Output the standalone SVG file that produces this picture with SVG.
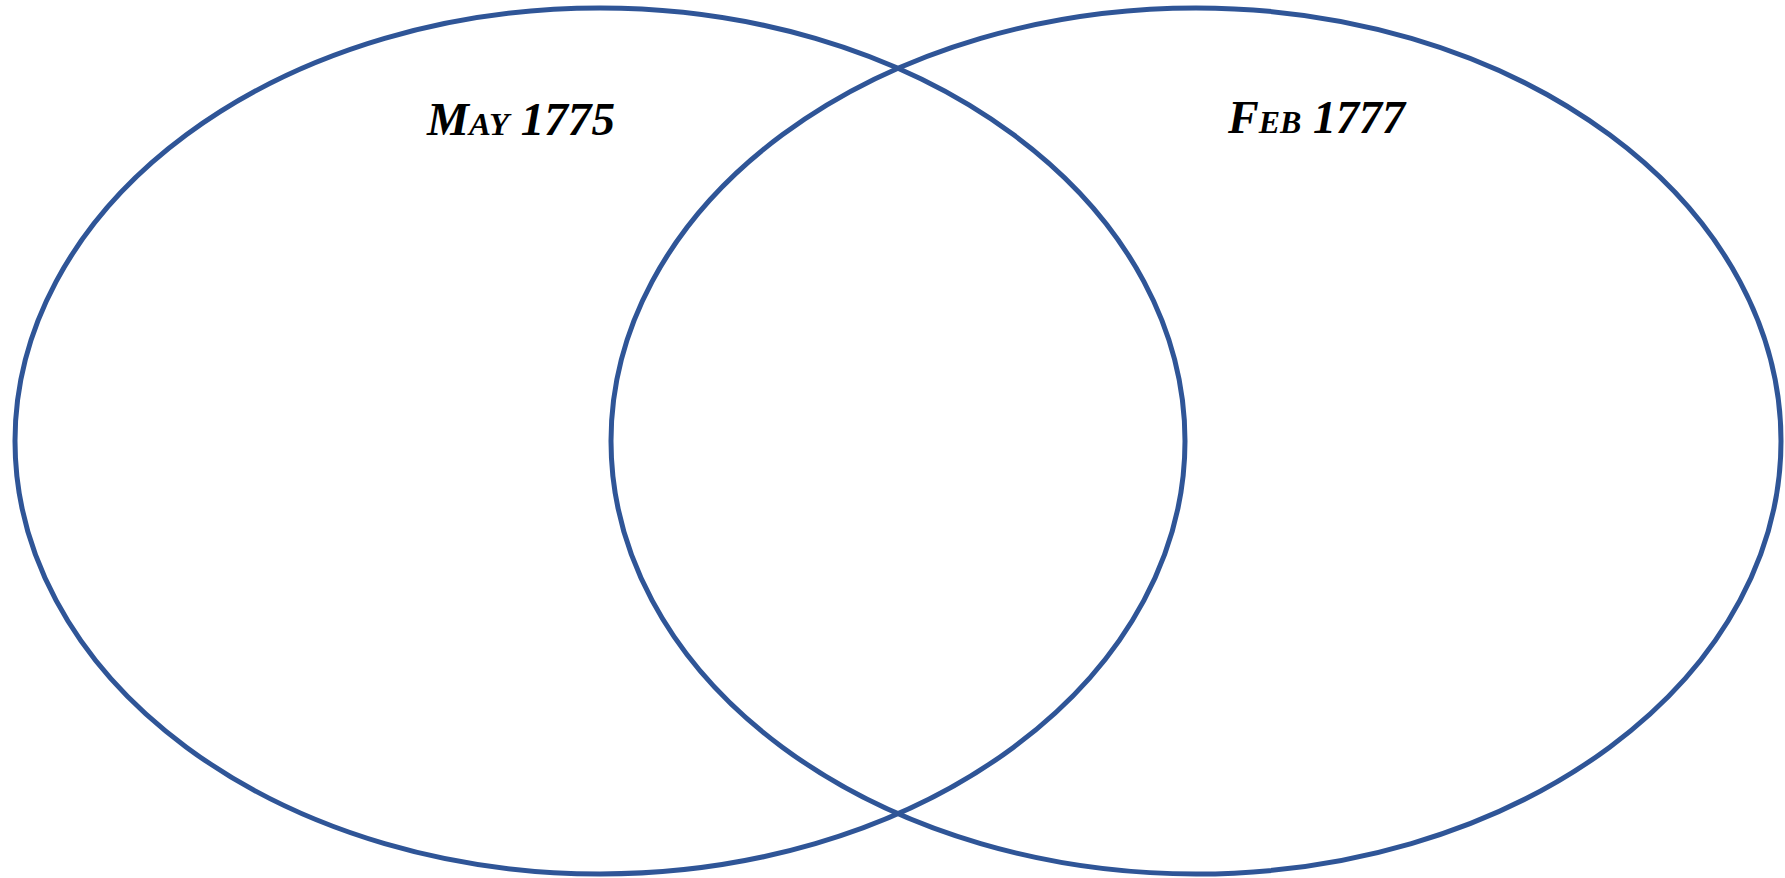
<svg xmlns="http://www.w3.org/2000/svg" width="1785" height="878" viewBox="0 0 1785 878">
<style>
.set{fill:none;stroke:#2F5597;stroke-width:5}
.lbl{font-family:"Liberation Serif","DejaVu Serif",serif;font-weight:bold;font-style:italic;font-variant:small-caps;font-size:46px;fill:#000}
</style>
<rect width="1785" height="878" fill="#fff"/>
<g id="set-may-1775">
<ellipse class="set" cx="600" cy="441" rx="585" ry="433"/>
<text class="lbl" x="427" y="135" textLength="188" lengthAdjust="spacingAndGlyphs">May 1775</text>
</g>
<g id="set-feb-1777">
<ellipse class="set" cx="1196" cy="441" rx="585" ry="433"/>
<text class="lbl" x="1228" y="133" textLength="177" lengthAdjust="spacingAndGlyphs">Feb 1777</text>
</g>
<g id="connectors"></g>
</svg>
